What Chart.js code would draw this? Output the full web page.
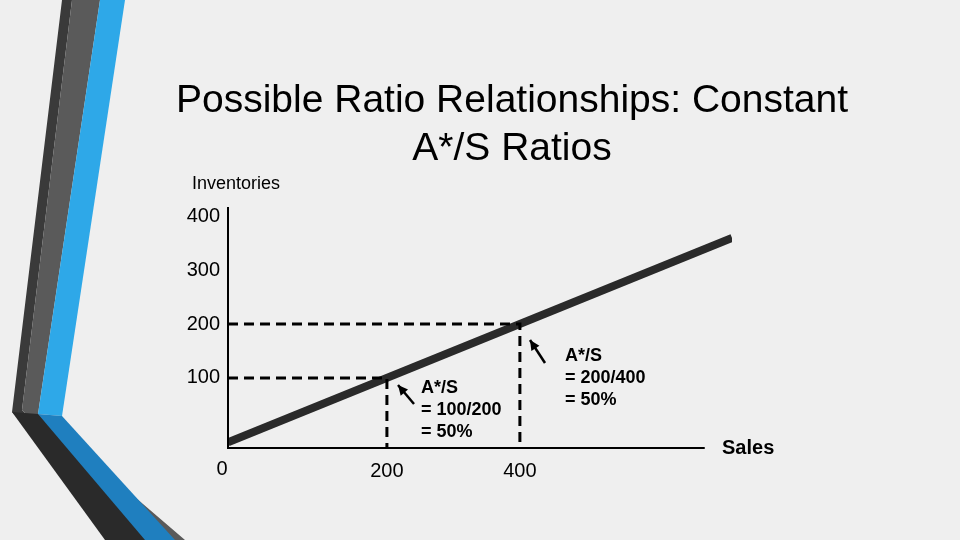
<!DOCTYPE html>
<html><head><meta charset="utf-8">
<script src="https://cdn.jsdelivr.net/npm/chart.js@4"></script>
<style>body{margin:0;background:#efefef}canvas{display:block}</style>
</head><body>
<div style="width:960px;height:540px"><canvas id="c"></canvas></div>
<script>
// data
const lineX = [-39, 719];
const lineY = [-19.5, 359.5];
const yTicks = [100, 200, 300, 400];
const xTicks = [200, 400];
const points = [[200, 100], [400, 200]];
const notes = ['A*/S|= 100/200|= 50%', 'A*/S|= 200/400|= 50%'];

const F = '"Liberation Sans", Arial, sans-serif';

const deco = {
  id: 'deco',
  beforeDraw(ch) {
    const c = ch.ctx;
    c.save();
    c.fillStyle = '#efefef'; c.fillRect(0, 0, 960, 540);
    const poly = (col, pts) => { c.fillStyle = col; c.beginPath(); pts.forEach((p, i) => i ? c.lineTo(p[0], p[1]) : c.moveTo(p[0], p[1])); c.closePath(); c.fill(); };
    poly('#3a3a3a', [[62,0],[72,0],[22,410],[150,540],[130,540],[12,412]]);
    poly('#5a5a5a', [[72,0],[100,0],[38,414],[185,540],[150,540],[22,410]]);
    poly('#2ea8e8', [[100,0],[125,0],[62,416],[38,414]]);
    poly('#1f7fbf', [[38,414],[62,416],[175,540],[135,540]]);
    poly('#2a2a2a', [[12,412],[38,414],[145,540],[105,540]]);
    c.restore();
  },
  afterDraw(ch) {
    const c = ch.ctx, x = ch.scales.x, y = ch.scales.y;
    const X = v => x.getPixelForValue(v), Y = v => y.getPixelForValue(v);
    c.save();
    c.strokeStyle = '#000'; c.lineWidth = 2;
    c.beginPath(); c.moveTo(X(-39), Y(417)); c.lineTo(X(-39), Y(-30)); c.lineTo(X(678), Y(-30)); c.stroke();
    c.fillStyle = '#000'; c.font = '20px ' + F; c.textAlign = 'right'; c.textBaseline = 'middle';
    yTicks.forEach(t => c.fillText(String(t), 220, Y(t)));
    c.textAlign = 'center';
    c.fillText('0', 222, 469);
    xTicks.forEach(t => c.fillText(String(t), X(t), 471));
    c.setLineDash([10, 6]); c.lineWidth = 3;
    points.forEach(p => {
      c.beginPath(); c.moveTo(X(-39), Y(p[1])); c.lineTo(X(p[0]), Y(p[1])); c.lineTo(X(p[0]), Y(-30)); c.stroke();
    });
    c.setLineDash([]);
    const arrow = (x1, y1, x2, y2) => {
      c.lineWidth = 2.5; c.beginPath(); c.moveTo(x1, y1); c.lineTo(x2, y2); c.stroke();
      const a = Math.atan2(y2 - y1, x2 - x1);
      c.beginPath(); c.moveTo(x2, y2);
      c.lineTo(x2 - 11 * Math.cos(a - 0.45), y2 - 11 * Math.sin(a - 0.45));
      c.lineTo(x2 - 11 * Math.cos(a + 0.45), y2 - 11 * Math.sin(a + 0.45)); c.closePath(); c.fill();
    };
    arrow(414, 404, 398, 385);
    arrow(545, 363, 530, 340);
    c.font = 'bold 18px ' + F; c.textAlign = 'left';
    notes[0].split('|').forEach((s, i) => c.fillText(s, 421, 388 + i * 22));
    notes[1].split('|').forEach((s, i) => c.fillText(s, 565, 356 + i * 22));
    c.font = 'bold 20px ' + F; c.fillText('Sales', 722, 448);
    c.font = '18px ' + F; c.fillText('Inventories', 192, 184);
    c.font = '39px ' + F; c.textAlign = 'center';
    c.fillText('Possible Ratio Relationships: Constant', 512, 101);
    c.fillText('A*/S Ratios', 512, 149);
    c.restore();
  }
};

new Chart(document.getElementById('c'), {
  type: 'scatter',
  data: { datasets: [{ data: lineX.map((v, i) => ({ x: v, y: lineY[i] })), showLine: true,
    borderColor: '#2a2a2a', borderWidth: 8, pointRadius: 0, borderCapStyle: 'butt' }] },
  options: {
    responsive: true, maintainAspectRatio: false, animation: false,
    layout: { padding: { left: 228, right: 228, top: 207, bottom: 92 } },
    plugins: { legend: { display: false }, tooltip: { enabled: false } },
    scales: {
      x: { type: 'linear', min: -39, max: 719, display: false },
      y: { type: 'linear', min: -30, max: 417, display: false }
    }
  },
  plugins: [deco]
});
</script>
</body></html>
